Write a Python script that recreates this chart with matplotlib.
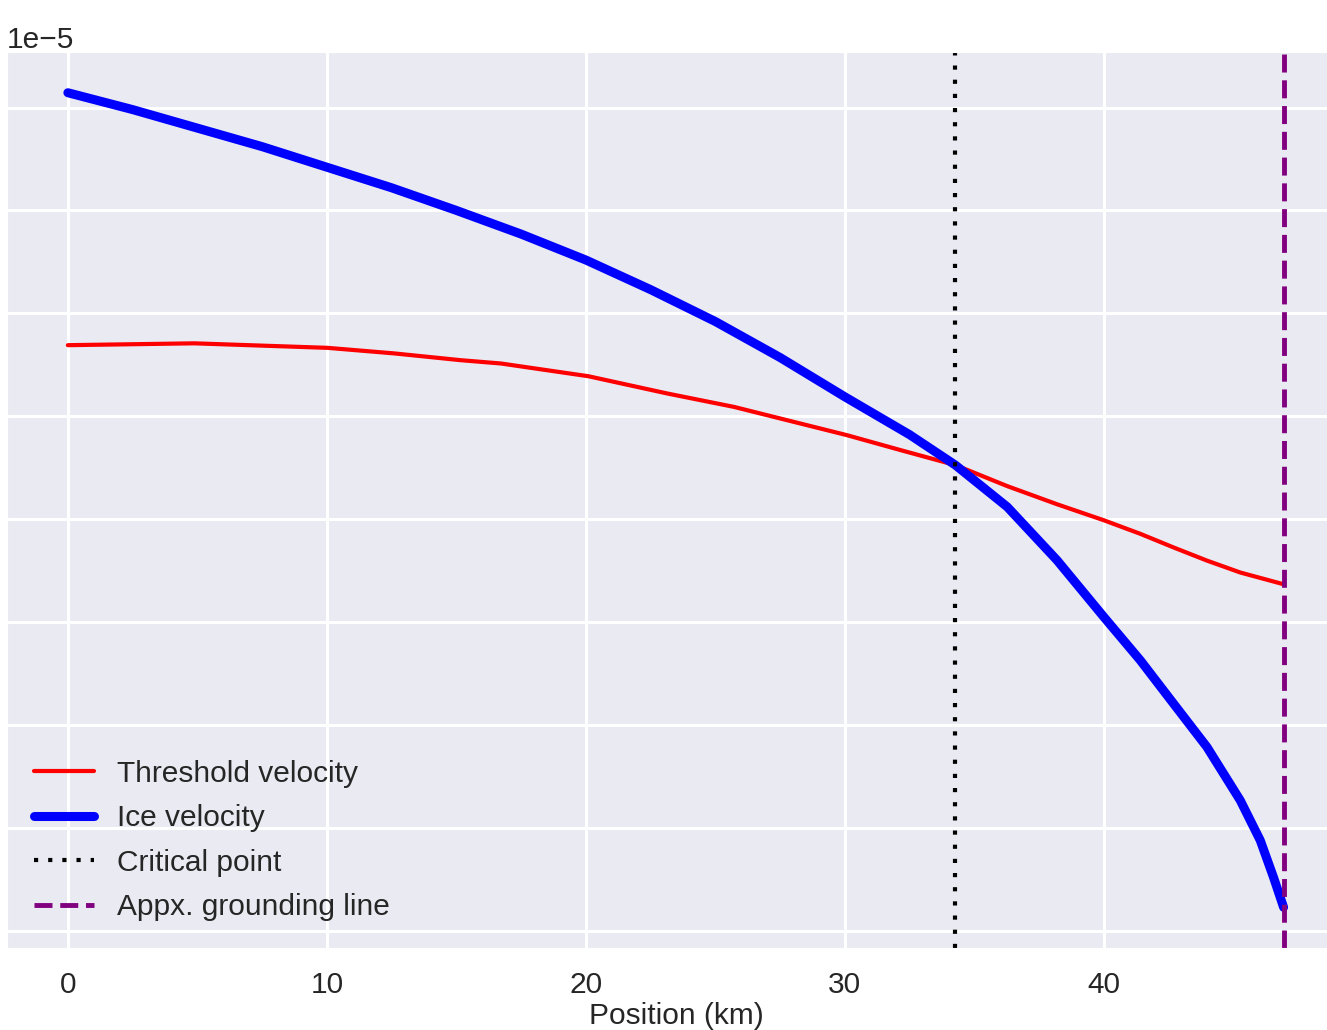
import numpy as np
import matplotlib
matplotlib.use("Agg")
import matplotlib.pyplot as plt
import seaborn as sns
from matplotlib.ticker import MultipleLocator, ScalarFormatter

# positions along the flowline (km) and velocities (x 1e-5)
pos_ice = [0, 2.5, 5, 7.5, 10, 12.5, 15, 17.5, 20, 22.5, 25, 27.5, 30, 32.5,
           34.27, 36.27, 38.19, 40, 41.41, 42.69, 43.98, 45.27, 46.04, 46.55, 46.94]
ice_vel = np.array([5.072, 4.99, 4.90, 4.81, 4.710, 4.61, 4.50, 4.385, 4.259,
                    4.115, 3.96, 3.785, 3.594, 3.41, 3.262, 3.059, 2.800, 2.524,
                    2.313, 2.103, 1.892, 1.632, 1.438, 1.259, 1.113]) * 1e-5

pos_thr = [0, 4.88, 10.03, 12.6, 15.17, 16.72, 20.1, 23.15, 25.72, 28.29, 30.07,
           32.15, 34.27, 36.27, 38.19, 40, 41.41, 42.69, 43.98, 45.27, 46.94]
thr_vel = np.array([3.845, 3.854, 3.832, 3.805, 3.772, 3.756, 3.694, 3.610,
                    3.545, 3.464, 3.408, 3.335, 3.262, 3.160, 3.072, 2.994,
                    2.928, 2.862, 2.798, 2.740, 2.683]) * 1e-5

critical_x = 34.27
grounding_x = 46.97


class OffsetOnly(ScalarFormatter):
    # keep the 1e-5 offset, tick labels fall outside the crop anyway
    def __call__(self, x, pos=None):
        return ""


sns.set_style("darkgrid")
plt.rcParams["font.family"] = ["Liberation Sans", "DejaVu Sans"]
plt.rcParams["grid.linewidth"] = 2.2

fig = plt.figure(figsize=(13.27, 10.3), dpi=100)
ax = fig.add_axes([7 / 1327, 82 / 1030, 1339 / 1327, 896 / 1030])

ax.plot(pos_thr, thr_vel, color="red", lw=3, label="Threshold velocity")
ax.plot(pos_ice, ice_vel, color="blue", lw=6.5, label="Ice velocity")
ax.axvline(critical_x, color="black", lw=3, linestyle=(0, (1, 2.4)), label="Critical point")
ax.axvline(grounding_x, color="purple", lw=3.5, linestyle="--", label="Appx. grounding line")

ax.set_xlim(-2.35, 49.35)
ax.yaxis.set_major_locator(MultipleLocator(0.5e-5))
ax.yaxis.set_major_formatter(OffsetOnly())
ax.tick_params(labelsize=21.5, colors=".15", pad=13)
ax.yaxis.get_offset_text().set_fontsize(21.5)
ax.set_xlabel("Position (km)", fontsize=21.5, color=".15", labelpad=2)

ax.legend(loc="lower left", fontsize=21.5, frameon=False, labelspacing=0.55,
          handletextpad=0.8)

fig.savefig("out.png", dpi=100)
